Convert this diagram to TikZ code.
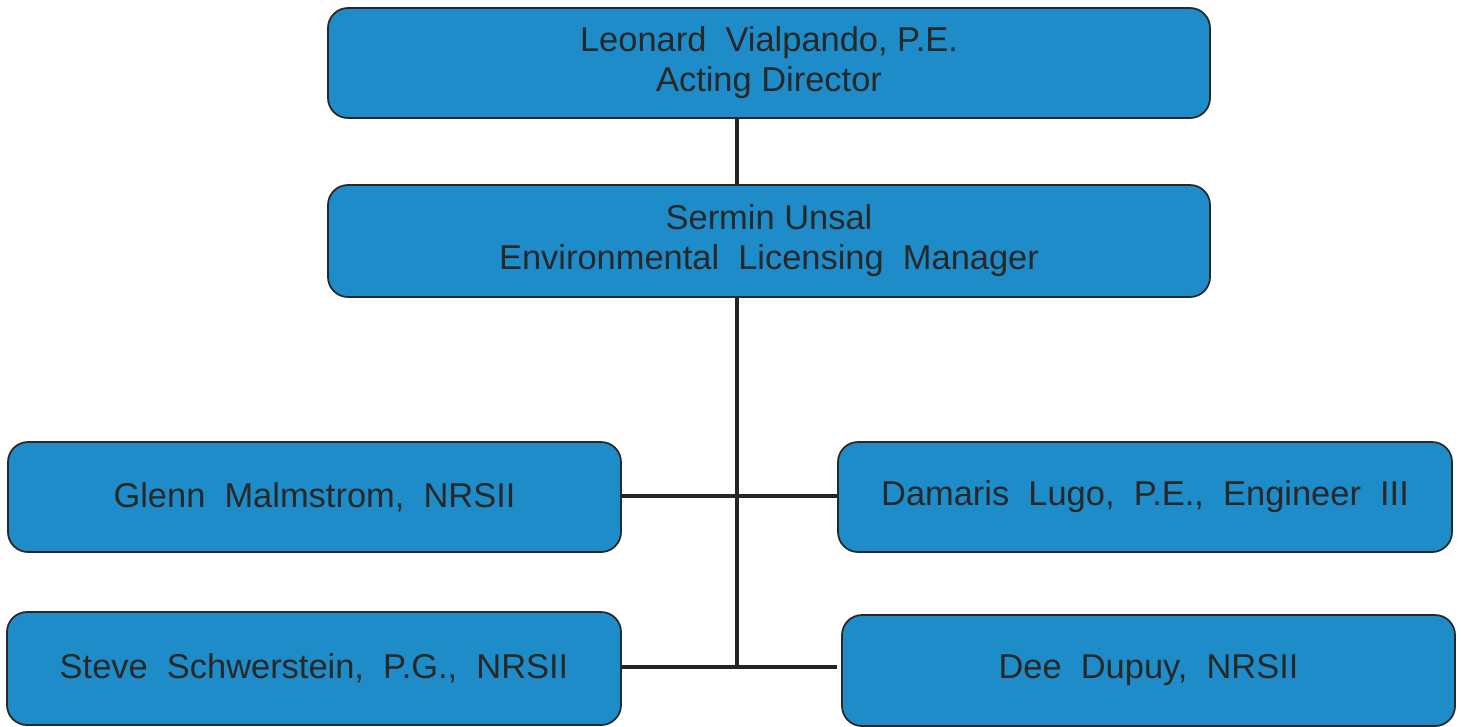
\documentclass[tikz,border=0pt]{standalone}
\usepackage{fontspec}
\setmainfont{Liberation Sans}
\usepackage{xcolor}

\definecolor{boxblue}{RGB}{30,140,200}
\definecolor{inkgray}{RGB}{40,40,40}

\tikzset{
  post/.style={draw=inkgray, line width=0.5pt, fill=boxblue, rounded corners=0.2cm,
    inner sep=0pt, align=center, text=inkgray, font=\fontsize{9.8}{11.4}\selectfont},
  link/.style={draw=inkgray!90!black, line width=1.2pt}
}

\begin{document}
\begin{tikzpicture}
  \useasboundingbox (0,0) rectangle (14.61,7.26);

  % chain of command
  \node[post, minimum width=8.82cm, minimum height=1.10cm] (dir) at (7.69,6.63)
    {Leonard\ \ Vialpando,\ P.E.\\Acting Director};
  \node[post, minimum width=8.82cm, minimum height=1.12cm] (mgr) at (7.69,4.85)
    {Sermin Unsal\\Environmental\ \ Licensing\ \ Manager};

  % staff
  \node[post, minimum width=6.13cm, minimum height=1.10cm] (glenn) at (3.145,2.29)
    {Glenn\ \ Malmstrom,\ \ NRSII};
  \node[post, minimum width=6.14cm, minimum height=1.10cm] (damaris) at (11.45,2.29)
    {Damaris\ \ Lugo,\ \ P.E.,\ \ Engineer\ \ III};
  \node[post, minimum width=6.14cm, minimum height=1.13cm] (steve) at (3.14,0.575)
    {Steve\ \ Schwerstein,\ \ P.G.,\ \ NRSII};
  \node[post, minimum width=6.13cm, minimum height=1.11cm] (dee) at (11.485,0.555)
    {Dee\ \ Dupuy,\ \ NRSII};

  \coordinate (jA) at (7.37,2.30);
  \coordinate (jB) at (7.37,0.59);

  \draw[link] (dir.south -| jA) -- (mgr.north -| jA);
  \draw[link] (mgr.south -| jA) -- (jB);
  \draw[link] (glenn.east |- jA) -- (damaris.west |- jA);
  \draw[link] (steve.east |- jB) -- ([xshift=-0.04cm]dee.west |- jB);
\end{tikzpicture}
\end{document}
